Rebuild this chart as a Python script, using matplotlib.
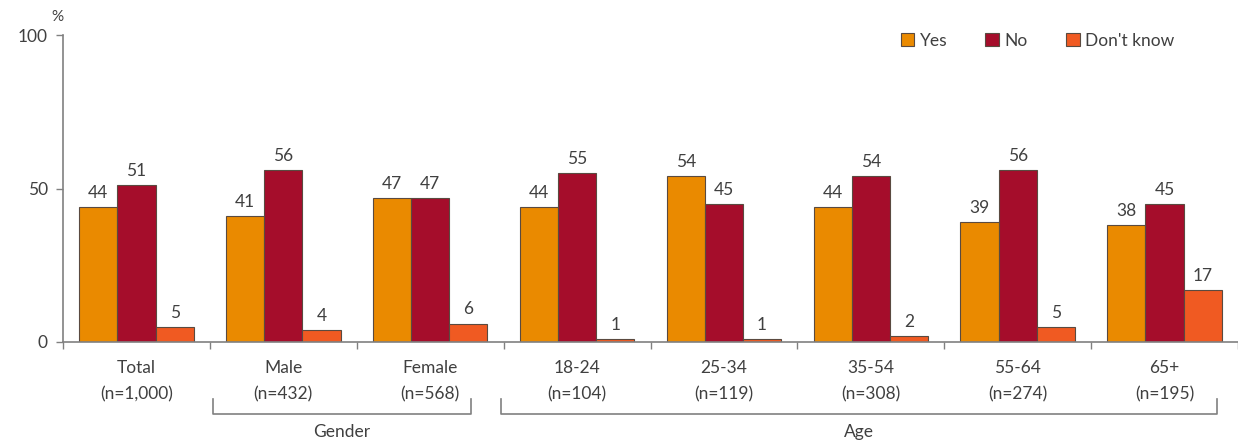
import matplotlib
matplotlib.use("Agg")
import matplotlib.pyplot as plt
import numpy as np
from matplotlib.transforms import blended_transform_factory

plt.rcParams['font.family'] = ['Lato', 'DejaVu Sans']

categories = ["Total\n(n=1,000)", "Male\n(n=432)", "Female\n(n=568)", "18-24\n(n=104)",
              "25-34\n(n=119)", "35-54\n(n=308)", "55-64\n(n=274)", "65+\n(n=195)"]
yes = [44, 41, 47, 44, 54, 44, 39, 38]
no = [51, 56, 47, 55, 45, 54, 56, 45]
dont_know = [5, 4, 6, 1, 1, 2, 5, 17]
series_names = ["Yes", "No", "Don't know"]
colors = ["#EA8A00", "#A50D2B", "#F05A22"]
group_names = ["Gender", "Age"]
group_first = [1, 3]
group_last = [2, 7]

W, H = 1238, 442
fig = plt.figure(figsize=(W / 100, H / 100), dpi=100)
ax_l, ax_r, ax_top, ax_bot = 63, 1238, 35, 342
ax = fig.add_axes([ax_l / W, 1 - ax_bot / H, (ax_r - ax_l) / W, (ax_bot - ax_top) / H])

txt = "#404040"
n = len(categories)
x = np.arange(n)
bw = 0.26
for i, (vals, name, c) in enumerate(zip([yes, no, dont_know], series_names, colors)):
    pos = x + (i - 1) * bw
    ax.bar(pos, vals, bw, color=c, edgecolor="#5a4a40", linewidth=0.8, label=name)
    for p, v in zip(pos, vals):
        ax.text(p, v + 2, str(v), ha="center", va="bottom", fontsize=12.5, color=txt)

ax.set_xlim(-0.5, n - 0.5)
ax.set_ylim(0, 100)
ax.set_yticks([0, 50, 100])
ax.set_yticklabels(["0", "50", "100"], fontsize=12.5, color=txt)
ax.set_xticks(np.arange(n + 1) - 0.5)
ax.set_xticklabels([])
ax.set_xticks(x, minor=True)
ax.set_xticklabels(categories, minor=True, fontsize=12.5, color=txt, linespacing=1.75)
ax.tick_params(axis="x", which="minor", length=0, pad=13)
ax.tick_params(axis="x", which="major", length=5, width=1, color="#808080", direction="out")
ax.tick_params(axis="y", length=5, width=1, color="#808080", pad=6)
for s in ["top", "right"]:
    ax.spines[s].set_visible(False)
for s in ["left", "bottom"]:
    ax.spines[s].set_color("#808080")
    ax.spines[s].set_linewidth(1.2)

fig.text(57 / W, 1 - 17 / H, "%", fontsize=11, color=txt, ha="center", va="center")

# group brackets
tr = blended_transform_factory(ax.transData, fig.transFigure)
right_trim = [0.22, 0.14]
left_trim = [0.02, -0.02]
for name, a, b, lt, rt in zip(group_names, group_first, group_last, left_trim, right_trim):
    x0 = a - 0.5 + lt
    x1 = b + 0.5 - rt
    yb = 1 - 414 / H
    yt = 1 - 399 / H
    ax.plot([x0, x0, x1, x1], [yt, yb, yb, yt], transform=tr, color="#808080",
            linewidth=1.2, clip_on=False)
    ax.text((x0 + x1) / 2, 1 - 432 / H, name, transform=tr, ha="center", va="center",
            fontsize=12.5, color=txt)

leg = ax.legend(loc="upper right", bbox_to_anchor=(1190 / W, 1 - 17 / H),
                bbox_transform=fig.transFigure, ncol=3, frameon=False, fontsize=12.5,
                handlelength=0.8, handleheight=0.8, handletextpad=0.3, columnspacing=2.2,
                labelcolor=txt)

fig.savefig("out.png", dpi=100)
